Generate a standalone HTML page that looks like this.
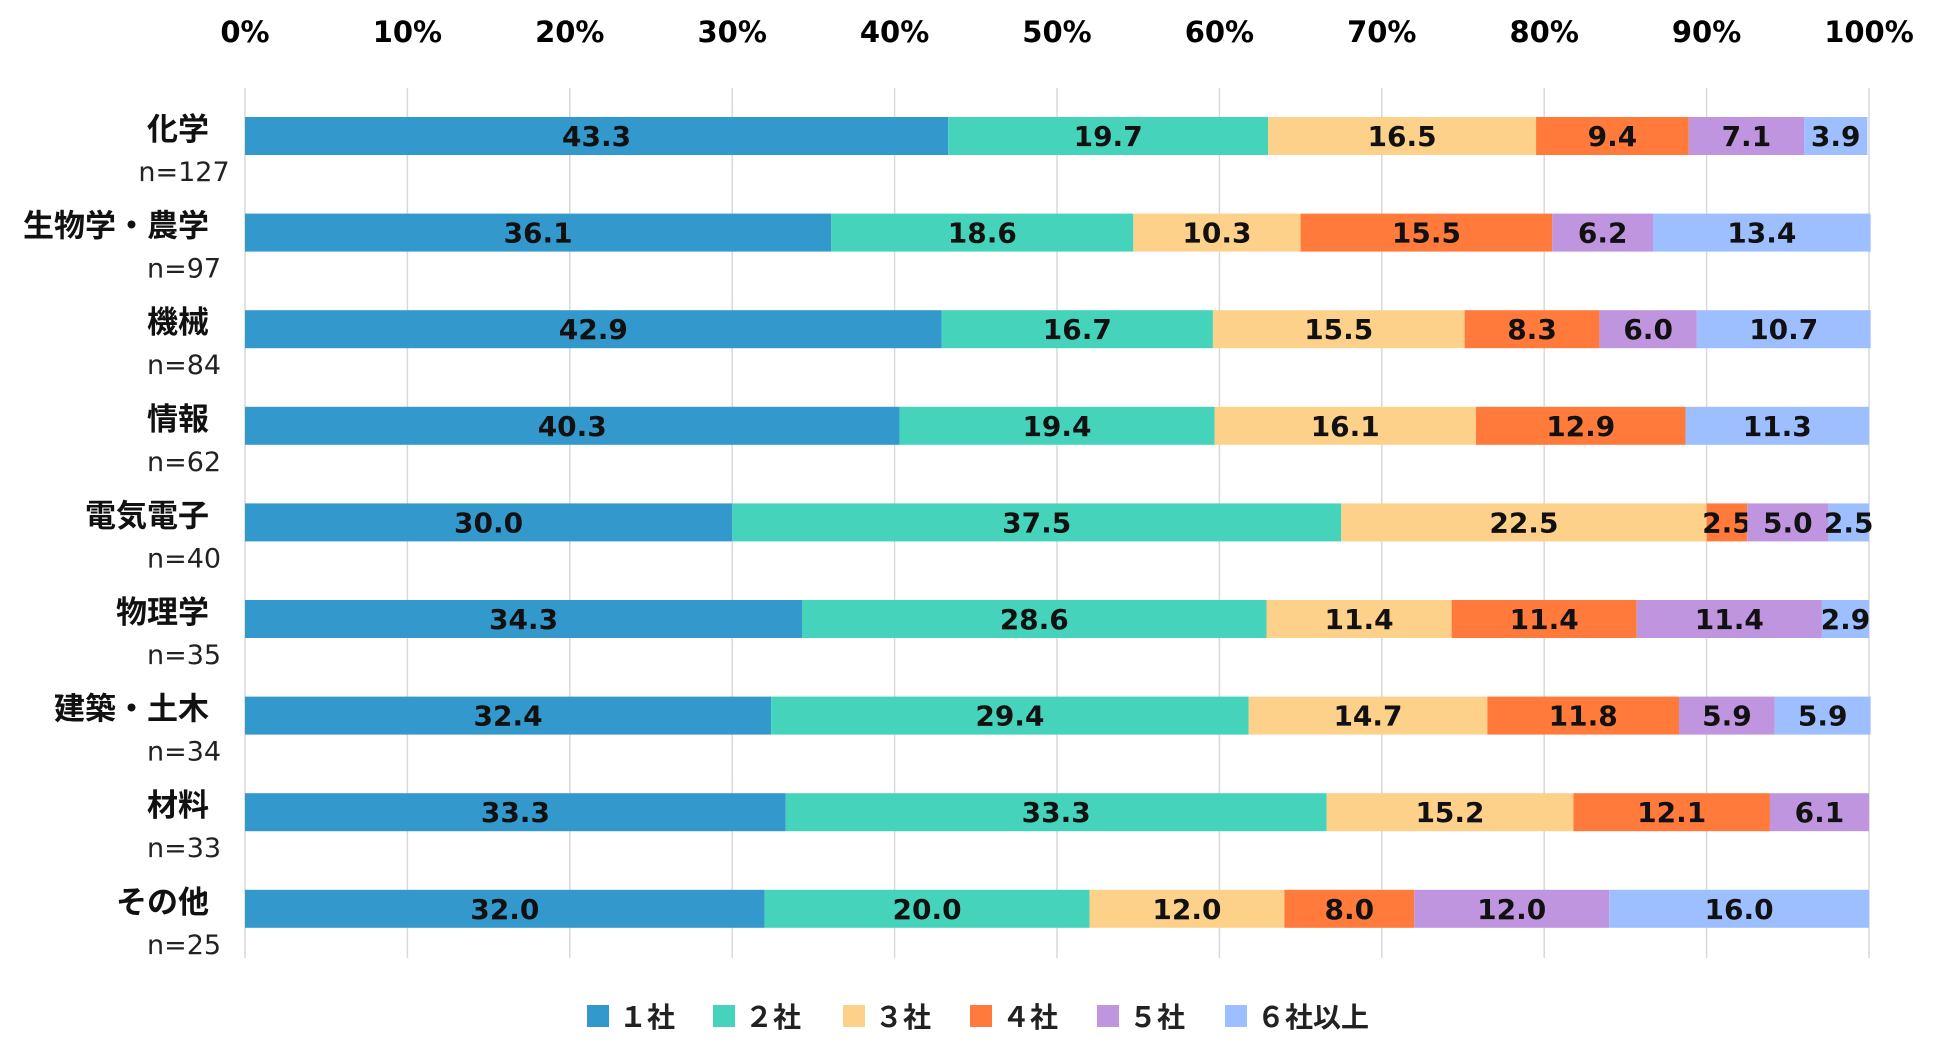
<!DOCTYPE html>
<html><head><meta charset="utf-8">
<style>
html,body{margin:0;padding:0;background:#fff;}
svg{display:block;font-family:"DejaVu Sans","Liberation Sans","Noto Sans CJK JP",sans-serif;}
</style></head>
<body>
<svg id="chart" width="1950" height="1063" viewBox="0 0 1950 1063" xmlns="http://www.w3.org/2000/svg"></svg>
<script>
const categories = ["化学","生物学・農学","機械","情報","電気電子","物理学","建築・土木","材料","その他"];
const counts = ["n=127","n=97","n=84","n=62","n=40","n=35","n=34","n=33","n=25"];
const seriesNames = ["１社","２社","３社","４社","５社","６社以上"];
const s1 = [43.3,36.1,42.9,40.3,30.0,34.3,32.4,33.3,32.0];
const s2 = [19.7,18.6,16.7,19.4,37.5,28.6,29.4,33.3,20.0];
const s3 = [16.5,10.3,15.5,16.1,22.5,11.4,14.7,15.2,12.0];
const s4 = [9.4,15.5,8.3,12.9,2.5,11.4,11.8,12.1,8.0];
const s5 = [7.1,6.2,6.0,0,5.0,11.4,5.9,6.1,12.0];
const s6 = [3.9,13.4,10.7,11.3,2.5,2.9,5.9,0,16.0];
const tickLabels = ["0%","10%","20%","30%","40%","50%","60%","70%","80%","90%","100%"];

const colors = ["#3399CC","#45D3BC","#FDD189","#FF7A3B","#BF95DF","#9DBEFF"];
const series = [s1,s2,s3,s4,s5,s6];
const NS = "http://www.w3.org/2000/svg";
const svg = document.getElementById("chart");
const x0 = 245, x1 = 1869;
const xScale = v => x0 + (x1 - x0) * v / 100;
const yTop = 136, yStep = 96.6;
const yScale = i => yTop + i * yStep;
const barH = 38;
const jp = '"Noto Sans CJK JP","DejaVu Sans",sans-serif';

function mk(tag, attrs, text) {
  const e = document.createElementNS(NS, tag);
  for (const k in attrs) e.setAttribute(k, attrs[k]);
  if (text !== undefined) e.textContent = text;
  svg.appendChild(e);
  return e;
}

tickLabels.forEach((t, i) => {
  const x = xScale(i * 10);
  const g = mk("line", {x1: x, x2: x, y1: 88, y2: 958, stroke: "#d9d9d9", "stroke-width": 1.5});
  
  
  const tl = mk("text", {x: x, y: 42, "text-anchor": "middle", "font-size": 29, "font-weight": "bold", fill: "#000"}, t);
  
  
});

categories.forEach((c, i) => {
  const yc = yScale(i);
  let acc = 0;
  series.forEach((s, k) => {
    const v = s[i];
    if (v > 0) {
      const r = mk("rect", {x: xScale(acc), y: yc - barH / 2, width: xScale(acc + v) - xScale(acc), height: barH, fill: colors[k]});
      
      
      const t = mk("text", {x: (xScale(acc) + xScale(acc + v)) / 2, y: yc + 10, "text-anchor": "middle", "font-size": 28, "font-weight": "bold", fill: "#111"}, v.toFixed(1));
      
      
    }
    acc += v;
  });
  const cl = mk("text", {x: 209, y: yc + 4, "text-anchor": "end", "font-size": 31, "font-weight": "bold", fill: "#111", "font-family": jp}, c);
  
  
  const nl = mk("text", {x: 184, y: yc + 45, "text-anchor": "middle", "font-size": 27, fill: "#222"}, counts[i]);
  
  
});

const legendX = [587, 713, 843, 970, 1097, 1225];
seriesNames.forEach((n, k) => {
  const sq = mk("rect", {x: legendX[k], y: 1005, width: 22, height: 22, fill: colors[k]});
  
  
  const lt = mk("text", {x: legendX[k] + 32, y: 1027, "font-size": 28, "font-weight": "bold", fill: "#222", "font-family": jp}, n);
  
  
});
</script>
</body></html>
